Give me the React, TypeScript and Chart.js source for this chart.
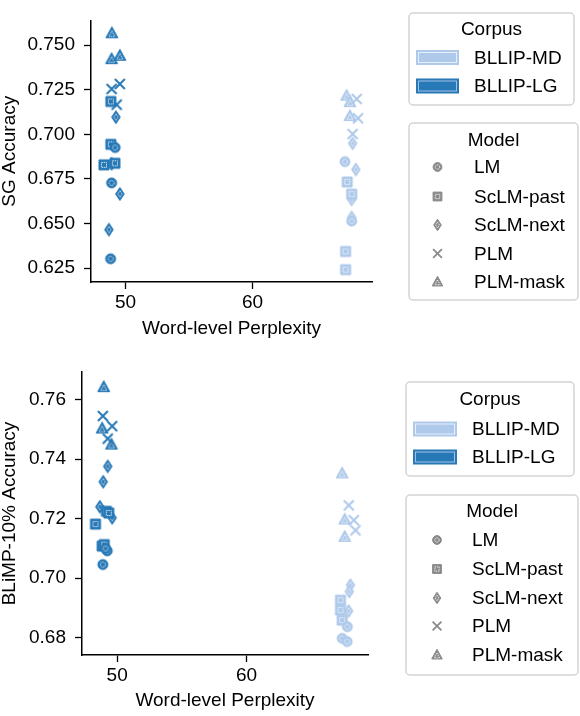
import { useEffect, useRef } from 'react';
import Chart from 'chart.js/auto';

// colours (matplotlib tab20 blues)
const DARK = '#2778b6';
const LIGHT = '#aec9ea';
const GREY = '#8a8a8a';
const FONT = '"Liberation Sans", Arial, sans-serif';

const models = ['LM', 'ScLM-past', 'ScLM-next', 'PLM', 'PLM-mask'];
const shapes = ['circle', 'square', 'diamond', 'x', 'triangle'];
const corpora = ['BLLIP-MD', 'BLLIP-LG'];

const xTicks = [50, 60];
const sgTicks = [0.625, 0.65, 0.675, 0.7, 0.725, 0.75];
const blimpTicks = [0.68, 0.7, 0.72, 0.74, 0.76];

// [model, word-level perplexity, accuracy]
const sgLG: [string, number, number][] = [
  ['LM', 49.18, 0.6926], ['LM', 48.9, 0.6728], ['LM', 48.82, 0.6303],
  ['ScLM-past', 48.84, 0.7184], ['ScLM-past', 48.84, 0.6944], ['ScLM-past', 48.3, 0.6829], ['ScLM-past', 49.16, 0.6838],
  ['ScLM-next', 49.24, 0.7096], ['ScLM-next', 49.55, 0.6666], ['ScLM-next', 48.69, 0.6466], ['ScLM-next', 48.9, 0.6835],
  ['PLM', 48.9, 0.7254], ['PLM', 49.55, 0.7282], ['PLM', 49.3, 0.7166],
  ['PLM-mask', 48.92, 0.7566], ['PLM-mask', 48.9, 0.7421], ['PLM-mask', 49.55, 0.744],
];
const sgMD: [string, number, number][] = [
  ['LM', 67.27, 0.6847], ['LM', 67.8, 0.6514],
  ['ScLM-past', 67.45, 0.6733], ['ScLM-past', 67.8, 0.6665], ['ScLM-past', 67.32, 0.6344], ['ScLM-past', 67.32, 0.6242],
  ['ScLM-next', 67.87, 0.6949], ['ScLM-next', 68.13, 0.6803], ['ScLM-next', 67.8, 0.6635], ['ScLM-next', 67.8, 0.6535],
  ['PLM', 68.19, 0.7198], ['PLM', 68.3, 0.709], ['PLM', 67.87, 0.7002],
  ['PLM-mask', 67.4, 0.7216], ['PLM-mask', 67.66, 0.718], ['PLM-mask', 67.66, 0.7102],
];
const blimpLG: [string, number, number][] = [
  ['LM', 49.23, 0.7092], ['LM', 48.89, 0.7046], ['LM', 49.1, 0.71],
  ['ScLM-past', 49.17, 0.7225], ['ScLM-past', 49.35, 0.7219], ['ScLM-past', 48.32, 0.7182], ['ScLM-past', 48.84, 0.7108], ['ScLM-past', 49.0, 0.7113],
  ['ScLM-next', 49.27, 0.7376], ['ScLM-next', 48.92, 0.7324], ['ScLM-next', 48.66, 0.724], ['ScLM-next', 49.61, 0.7203],
  ['PLM', 48.89, 0.7545], ['PLM', 49.61, 0.7511], ['PLM', 49.27, 0.7469],
  ['PLM-mask', 48.96, 0.7642], ['PLM-mask', 48.84, 0.7503], ['PLM-mask', 49.56, 0.7449],
];
const blimpMD: [string, number, number][] = [
  ['LM', 67.4, 0.6798], ['LM', 67.79, 0.6787], ['LM', 67.8, 0.6837],
  ['ScLM-past', 67.27, 0.6926], ['ScLM-past', 67.27, 0.6893], ['ScLM-past', 67.4, 0.6859],
  ['ScLM-next', 68.04, 0.6977], ['ScLM-next', 67.95, 0.6955], ['ScLM-next', 67.9, 0.689],
  ['PLM', 67.91, 0.7245], ['PLM', 68.3, 0.7195], ['PLM', 68.43, 0.7161],
  ['PLM-mask', 67.4, 0.7352], ['PLM-mask', 67.6, 0.7197], ['PLM-mask', 67.6, 0.7139],
];

function shapePath(ctx: CanvasRenderingContext2D, shape: string, x: number, y: number, s: number) {
  ctx.beginPath();
  if (shape === 'circle') ctx.arc(x, y, 5 * s, 0, Math.PI * 2);
  else if (shape === 'square') ctx.rect(x - 5 * s, y - 5 * s, 10 * s, 10 * s);
  else if (shape === 'diamond') {
    ctx.moveTo(x, y - 6.5 * s); ctx.lineTo(x + 4.3 * s, y); ctx.lineTo(x, y + 6.5 * s); ctx.lineTo(x - 4.3 * s, y); ctx.closePath();
  } else if (shape === 'triangle') {
    ctx.moveTo(x, y - 6.5 * s); ctx.lineTo(x + 6 * s, y + 4.5 * s); ctx.lineTo(x - 6 * s, y + 4.5 * s); ctx.closePath();
  } else {
    ctx.moveTo(x - 5 * s, y - 5 * s); ctx.lineTo(x + 5 * s, y + 5 * s);
    ctx.moveTo(x + 5 * s, y - 5 * s); ctx.lineTo(x - 5 * s, y + 5 * s);
  }
}

function drawMarker(ctx: CanvasRenderingContext2D, shape: string, x: number, y: number, s: number, color: string) {
  ctx.save();
  ctx.strokeStyle = color;
  ctx.fillStyle = color;
  if (shape === 'x') {
    shapePath(ctx, shape, x, y, s);
    ctx.lineWidth = 2 * s;
    ctx.stroke();
  } else {
    shapePath(ctx, shape, x, y, s);
    ctx.fill();
    ctx.lineWidth = 1;
    ctx.stroke();
    shapePath(ctx, shape, x, y + (shape === 'triangle' ? 1 * s : 0), s * 0.5);
    ctx.strokeStyle = 'rgba(255,255,255,0.9)';
    ctx.lineWidth = 0.9;
    ctx.setLineDash([1.4, 0.8]);
    ctx.stroke();
  }
  ctx.restore();
}

function markerImage(shape: string, color: string) {
  const c = document.createElement('canvas');
  c.width = 18;
  c.height = 18;
  drawMarker(c.getContext('2d')!, shape, 9, 9, 1, color);
  return c;
}

type LegendLayout = {
  corpusBox: [number, number, number, number];
  corpusTitleY: number;
  corpusRows: number[];
  patchX: [number, number];
  modelBox: [number, number, number, number];
  modelTitleY: number;
  modelRows: number[];
  markerX: number;
  textX: number;
};

function roundBox(ctx: CanvasRenderingContext2D, b: [number, number, number, number]) {
  const [x0, y0, x1, y1] = b;
  ctx.beginPath();
  ctx.roundRect(x0, y0, x1 - x0, y1 - y0, 4);
  ctx.fillStyle = 'rgba(255,255,255,0.8)';
  ctx.fill();
  ctx.strokeStyle = '#d4d4d4';
  ctx.lineWidth = 1.5;
  ctx.stroke();
}

function legendPlugin(L: LegendLayout) {
  return {
    id: 'twoLegends',
    afterDraw(chart: Chart) {
      const ctx = chart.ctx;
      ctx.save();
      ctx.font = `19px ${FONT}`;
      ctx.textBaseline = 'middle';
      roundBox(ctx, L.corpusBox);
      ctx.fillStyle = '#000';
      ctx.textAlign = 'center';
      ctx.fillText('Corpus', (L.corpusBox[0] + L.corpusBox[2]) / 2, L.corpusTitleY);
      corpora.forEach((name, i) => {
        const y = L.corpusRows[i];
        const color = i === 0 ? LIGHT : DARK;
        ctx.fillStyle = color;
        ctx.fillRect(L.patchX[0], y - 7.5, L.patchX[1] - L.patchX[0], 15);
        ctx.strokeStyle = i === 0 ? 'rgba(255,255,255,0.7)' : 'rgba(174,201,234,0.9)';
        ctx.lineWidth = 1;
        ctx.strokeRect(L.patchX[0] + 2.5, y - 5, L.patchX[1] - L.patchX[0] - 5, 10);
        ctx.fillStyle = '#000';
        ctx.textAlign = 'left';
        ctx.fillText(name, L.textX, y + 1);
      });
      roundBox(ctx, L.modelBox);
      ctx.fillStyle = '#000';
      ctx.textAlign = 'center';
      ctx.fillText('Model', (L.modelBox[0] + L.modelBox[2]) / 2, L.modelTitleY);
      models.forEach((name, i) => {
        const y = L.modelRows[i];
        drawMarker(ctx, shapes[i], L.markerX, y, 0.88, GREY);
        ctx.fillStyle = '#000';
        ctx.textAlign = 'left';
        ctx.fillText(name, L.textX, y + 1);
      });
      ctx.restore();
    },
  };
}

function buildDatasets(lg: [string, number, number][], md: [string, number, number][]) {
  const sets: any[] = [];
  ([[md, LIGHT, corpora[0]], [lg, DARK, corpora[1]]] as [typeof lg, string, string][]).forEach(([rows, color, corpus]) => {
    models.forEach((m, i) => {
      sets.push({
        label: `${corpus} ${m}`,
        data: rows.filter((r) => r[0] === m).map((r) => ({ x: r[1], y: r[2] })),
        pointStyle: markerImage(shapes[i], color),
        pointRadius: 7,
        showLine: false,
      });
    });
  });
  return sets;
}

type PanelProps = {
  height: number;
  lg: [string, number, number][];
  md: [string, number, number][];
  yTicks: number[];
  yDigits: number;
  yTitle: string;
  yMin: number;
  yMax: number;
  area: { left: number; right: number; top: number; bottom: number };
  xTitlePad: number;
  legend: LegendLayout;
};

function Panel(p: PanelProps) {
  const canvasRef = useRef<HTMLCanvasElement | null>(null);
  const chartRef = useRef<Chart | null>(null);

  useEffect(() => {
    if (!canvasRef.current) return;
    const ctx = canvasRef.current.getContext('2d');
    if (!ctx) return;

    const tickFont = { family: FONT, size: 19 };
    const titleFont = { family: FONT, size: 19, lineHeight: 1 };

    chartRef.current = new Chart(ctx, {
      type: 'scatter',
      data: { datasets: buildDatasets(p.lg, p.md) },
      options: {
        animation: false,
        responsive: false,
        devicePixelRatio: 1,
        layout: { padding: { left: 0, top: p.area.top, right: 580 - p.area.right, bottom: 0 } },
        plugins: { legend: { display: false }, tooltip: { enabled: false } },
        scales: {
          x: {
            type: 'linear',
            min: 47.28,
            max: 69.4,
            afterBuildTicks: (s: any) => { s.ticks = xTicks.map((v) => ({ value: v })); },
            afterFit: (s: any) => { s.height = p.height - p.area.bottom; },
            ticks: { color: '#000', font: tickFont, padding: 2, maxRotation: 0 },
            grid: { drawOnChartArea: false, drawTicks: true, tickLength: 7, tickColor: '#000', tickWidth: 1.3 },
            border: { display: true, color: '#000', width: 1.5 },
            title: { display: true, text: 'Word-level Perplexity', color: '#000', font: titleFont, padding: { top: 0, bottom: p.xTitlePad } },
          },
          y: {
            type: 'linear',
            min: p.yMin,
            max: p.yMax,
            afterBuildTicks: (s: any) => { s.ticks = p.yTicks.map((v) => ({ value: v })); },
            afterFit: (s: any) => { s.width = p.area.left; },
            ticks: { color: '#000', font: tickFont, padding: 9, callback: (v: any) => Number(v).toFixed(p.yDigits) },
            grid: { drawOnChartArea: false, drawTicks: true, tickLength: 7, tickColor: '#000', tickWidth: 1.3 },
            border: { display: true, color: '#000', width: 1.5 },
            title: { display: true, text: p.yTitle, color: '#000', font: titleFont, padding: { top: 0, bottom: 0 } },
          },
        },
      },
      plugins: [legendPlugin(p.legend)],
    });

    return () => {
      chartRef.current?.destroy();
    };
  }, []);

  return <canvas ref={canvasRef} width={580} height={p.height} style={{ display: 'block', width: 580, height: p.height }} />;
}

export default function App() {
  return (
    <div style={{ width: 580, background: '#fff' }}>
      <style>{'body{margin:0;background:#fff}'}</style>
      <Panel
        height={340}
        lg={sgLG}
        md={sgMD}
        yTicks={sgTicks}
        yDigits={3}
        yTitle="SG Accuracy"
        yMin={0.6173}
        yMax={0.7638}
        area={{ left: 91, right: 372, top: 3, bottom: 282 }}
        xTitlePad={2}
        legend={{
          corpusBox: [409, 13, 574, 105],
          corpusTitleY: 29.5,
          corpusRows: [57.5, 86],
          patchX: [416, 459],
          modelBox: [409, 123, 578, 300],
          modelTitleY: 140.5,
          modelRows: [167, 196.5, 225, 253.5, 282],
          markerX: 437.5,
          textX: 474,
        }}
      />
      <Panel
        height={376}
        lg={blimpLG}
        md={blimpMD}
        yTicks={blimpTicks}
        yDigits={2}
        yTitle="BLiMP-10% Accuracy"
        yMin={0.6742}
        yMax={0.7693}
        area={{ left: 82, right: 368, top: 32, bottom: 315 }}
        xTitlePad={6}
        legend={{
          corpusBox: [406, 42, 574, 136],
          corpusTitleY: 59.5,
          corpusRows: [89, 117],
          patchX: [413, 457],
          modelBox: [406, 155, 578, 335],
          modelTitleY: 172,
          modelRows: [200, 229, 258, 286, 315],
          markerX: 437,
          textX: 472,
        }}
      />
    </div>
  );
}
